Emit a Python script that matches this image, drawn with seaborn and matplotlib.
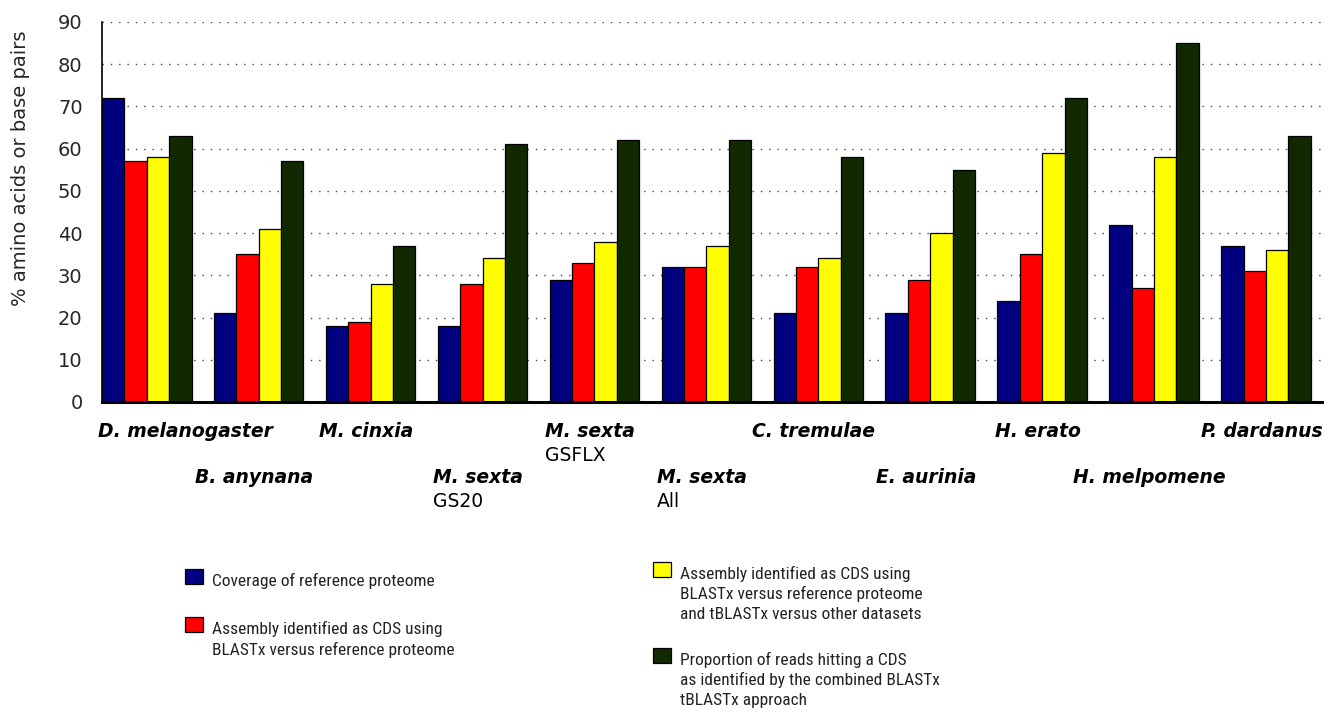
import matplotlib
matplotlib.use("Agg")
import matplotlib.pyplot as plt
import matplotlib.transforms as mtransforms
from matplotlib.patches import Rectangle
from matplotlib.legend_handler import HandlerPatch
from matplotlib import font_manager
import pandas as pd
import seaborn as sns

# ---------------- data ----------------
species = ["D. melanogaster", "B. anynana", "M. cinxia", "M. sexta", "M. sexta",
           "M. sexta", "C. tremulae", "E. aurinia", "H. erato", "H. melpomene",
           "P. dardanus"]
datasets = ["", "", "", "GS20", "GSFLX", "All", "", "", "", "", ""]

coverage = [72, 21, 18, 18, 29, 32, 21, 21, 24, 42, 37]
blastx = [57, 35, 19, 28, 33, 32, 32, 29, 35, 27, 31]
blastx_tblastx = [58, 41, 28, 34, 38, 37, 34, 40, 59, 58, 36]
reads_hitting = [63, 57, 37, 61, 62, 62, 58, 55, 72, 85, 63]

legend_lines = [
    ["Coverage of reference proteome"],
    ["Assembly identified as CDS using", "BLASTx versus reference proteome"],
    ["Assembly identified as CDS using", "BLASTx versus reference proteome",
     "and tBLASTx versus other datasets"],
    ["Proportion of reads hitting a CDS", "as identified by the combined BLASTx",
     "tBLASTx approach"],
]
series_names = [" ".join(l) for l in legend_lines]
colors = ["#000080", "#FF0000", "#FFFF00", "#112900"]
yticks = list(range(0, 91, 10))

keys = [f"{s} {d}".strip() for s, d in zip(species, datasets)]
rows = []
for name, vals in zip(series_names, [coverage, blastx, blastx_tblastx, reads_hitting]):
    for k, v in zip(keys, vals):
        rows.append({"group": k, "series": name, "value": v})
df = pd.DataFrame(rows)

# ---------------- figure ----------------
sns.set_theme(style="white")
plt.rcParams["font.family"] = ["DejaVu Sans"]
plt.rcParams["text.color"] = "black"

fig = plt.figure(figsize=(13.41, 7.19), dpi=100)
ax = fig.add_axes([102 / 1341, 1 - 402 / 719, 1220 / 1341, 380 / 719])

sns.barplot(data=df, x="group", y="value", hue="series", order=keys,
            hue_order=series_names, palette=colors, saturation=1,
            edgecolor="black", linewidth=0.9, width=0.8, ax=ax, errorbar=None)

leg = ax.get_legend()
handles = list(leg.legend_handles)
leg.remove()

ax.set_xlim(-0.4, 10.5)
ax.set_ylim(0, 90)
ax.set_yticks(yticks)
ax.set_yticklabels([str(t) for t in yticks], fontsize=14, color="#262626")
ax.tick_params(axis="y", length=0, pad=14)
ax.set_xticks(range(len(keys)))
ax.set_xticklabels([])
ax.tick_params(axis="x", length=0)
ax.set_xlabel("")
ax.set_ylabel("% amino acids or base pairs", fontsize=14, color="#262626")
ax.yaxis.set_label_coords(-0.059, 0.615)

ax.set_axisbelow(True)
ax.yaxis.grid(True, color="#444444", linestyle=(0, (1, 5)), linewidth=1)
ax.xaxis.grid(False)
for side in ["top", "right"]:
    ax.spines[side].set_visible(False)
ax.spines["left"].set_color("black")
ax.spines["left"].set_linewidth(1.2)
ax.spines["bottom"].set_color("black")
ax.spines["bottom"].set_linewidth(2.2)

# ---------------- category labels (two staggered rows) ----------------
trans = mtransforms.blended_transform_factory(ax.transData, ax.transAxes)
row_y = [-0.092, -0.213]
sub_dy = 24 / 380
for i, (sp, ds) in enumerate(zip(species, datasets)):
    y = row_y[i % 2]
    if i == 0:
        t = ax.text(-0.436, y, sp, transform=trans, ha="left", va="baseline",
                    fontsize=13.5, fontweight="bold", fontstyle="italic",
                    color="black")
    else:
        t = ax.text(i - 0.04, y, sp, transform=trans, ha="center", va="baseline",
                    fontsize=13.5, fontweight="bold", fontstyle="italic",
                    color="black")
    if ds:
        ax.annotate(ds, xy=(0, y - sub_dy), xycoords=(t, ax.transAxes),
                    ha="left", va="baseline", fontsize=13.5, color="black")

# ---------------- legends ----------------
ttf = font_manager.fontManager.ttflist
names = {f.name for f in ttf}
leg_prop = None
for nm in ["Liberation Sans Narrow", "DejaVu Sans Condensed", "Noto Sans Condensed",
           "Roboto Condensed", "Open Sans Condensed", "Inter Condensed"]:
    if nm in names:
        leg_prop = {"family": nm, "size": 12.5}
        break
if leg_prop is None:
    for f in ttf:
        if (str(f.stretch) in ("condensed", "semi-condensed", "extra-condensed")
                and f.style == "normal" and f.weight in (400, "normal", "regular")):
            leg_prop = {"family": f.name, "stretch": f.stretch, "size": 12.5}
            break
if leg_prop is None:
    leg_prop = {"family": "Lato", "size": 11.5}

fs_px = leg_prop["size"] * 100 / 72
hh = 17 / fs_px
hl = 17.5 / fs_px
yd_px = 0.35 * fs_px * (hh - 0.7)
lift_pt = (yd_px + 2) * 72 / 100          # handle bottom 2px above baseline


def patch_func(legend, orig_handle, xdescent, ydescent, width, height, fontsize):
    return Rectangle((-xdescent, -ydescent + lift_pt), width, height)


hmap = {Rectangle: HandlerPatch(patch_func=patch_func)}


def blank():
    return Rectangle((0, 0), 1, 1, facecolor="none", edgecolor="none")


def build(idx_list):
    hs, ls, gaps = [], [], []
    for n, idx in enumerate(idx_list):
        if n > 0:
            hs.append(blank())
            ls.append(" ")
            gaps.append(len(ls) - 1)
        for j, line in enumerate(legend_lines[idx]):
            hs.append(handles[idx] if j == 0 else blank())
            ls.append(line)
    return hs, ls, gaps


# (x of handle, baseline of first line, line pitch, item gap) in pixels
for idx_list, x0, base0, pitch, gap in [([0, 1], 185, 588, 21.0, 47),
                                        ([2, 3], 653, 581, 20.2, 46.5)]:
    hs, ls, gaps = build(idx_list)
    row_h = 17.0
    spacing_px = pitch - row_h
    top = base0 - (17 - yd_px)
    blank_h = gap - row_h - 2 * spacing_px
    lg = fig.legend(hs, ls, loc="upper left",
                    bbox_to_anchor=(x0 / 1341, 1 - top / 719),
                    frameon=False, borderpad=0, borderaxespad=0,
                    handlelength=hl, handleheight=hh, handletextpad=0.55,
                    labelspacing=spacing_px / fs_px, handler_map=hmap,
                    prop=leg_prop)
    for t in lg.get_texts():
        t.set_color("#222222")
    for g in gaps:
        lg.get_texts()[g].set_fontsize(blank_h / 0.95 * 72 / 100)

fig.savefig("out.png", dpi=100)
